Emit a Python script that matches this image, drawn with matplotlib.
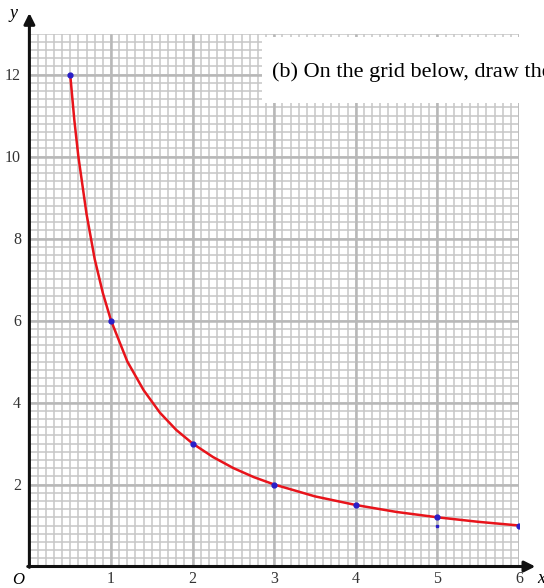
import numpy as np
import matplotlib
matplotlib.use("Agg")
import matplotlib.pyplot as plt
from matplotlib.patches import Rectangle

# points
curve_x = [0.5, 0.55, 0.6, 0.7, 0.8, 0.9, 1.0, 1.2, 1.4, 1.6, 1.8, 2.0,
           2.25, 2.5, 2.75, 3.0, 3.5, 4.0, 4.5, 5.0, 5.5, 6.0]
curve_y = [12.0, 10.9, 10.0, 8.6, 7.5, 6.67, 6.0, 5.0, 4.3, 3.75, 3.33, 3.0,
           2.67, 2.4, 2.18, 2.0, 1.71, 1.5, 1.33, 1.2, 1.09, 1.0]

# plotted (blue) points
pts_x = [0.5, 1, 2, 3, 4, 5, 6]
pts_y = [12, 6, 3, 2, 1.5, 1.2, 1.0]
small_x = [0.5, 5]
small_y = [0.0, 1.0]

x_ticks = [1, 2, 3, 4, 5, 6]
y_ticks = [2, 4, 6, 8, 10, 12]
question = "(b) On the grid below, draw the"

W, H = 544, 588
fig = plt.figure(figsize=(W / 100, H / 100), dpi=100)
ax = fig.add_axes([29.4 / W, 21.5 / H, 489.6 / W, 533 / H])
ax.set_xlim(0, 6)
ax.set_ylim(0, 13)
for s in ax.spines.values():
    s.set_visible(False)

serif = ["Liberation Serif", "DejaVu Serif"]

# graph paper
grid_c = "#c6c6c6"
ax.vlines(np.arange(0.1, 6.01, 0.1), 0, 13, color=grid_c, lw=1.1, zorder=1)
ax.hlines(np.arange(0.2, 13.01, 0.2), 0, 6, color=grid_c, lw=1.1, zorder=1)
ax.vlines(np.arange(1, 6.01, 1), 0, 13, color="#b8b8b8", lw=1.8, zorder=1)
ax.hlines(np.arange(2, 13, 2), 0, 6, color="#b8b8b8", lw=1.8, zorder=1)

# white box of the question text covering the grid
fig.patches.append(Rectangle((262 / W, (H - 103) / H), (W - 262) / W, 66 / H,
                             transform=fig.transFigure, facecolor="white",
                             edgecolor="none", zorder=5))
fig.text(272 / W, (H - 72) / H, question, family=serif, fontsize=16,
         va="center", ha="left", zorder=6)

# curve and points
ax.plot(curve_x, curve_y, color="#e8141b", lw=1.8, zorder=3)
ax.plot(pts_x, pts_y, "o", color="#2a1fc8", ms=3.5, zorder=4)
ax.plot(small_x, small_y, "s", color="#2a1fc8", ms=2, zorder=4)

# axes with arrows
arrow = dict(arrowstyle="-|>", lw=2.2, color="#111111", mutation_scale=16,
             shrinkA=0, shrinkB=0)
ax.annotate("", xy=(0, 13.5), xytext=(0, -0.02), arrowprops=arrow,
            annotation_clip=False, zorder=7)
ax.annotate("", xy=(6.2, 0), xytext=(-0.02, 0), arrowprops=arrow,
            annotation_clip=False, zorder=7)

ax.set_xticks(x_ticks)
ax.set_yticks(y_ticks)
ax.set_xticklabels([str(v) for v in x_ticks], family=serif, fontsize=11.5,
                   color="#333333")
ax.set_yticklabels([str(v) for v in y_ticks], family=serif, fontsize=11.5,
                   color="#333333")
ax.tick_params(axis="x", length=0, pad=3)
ax.tick_params(axis="y", length=0, pad=6)

ax.text(-0.14, -0.33, "O", family=serif, style="italic", fontsize=12,
        ha="center", va="center", clip_on=False)
ax.text(6.27, -0.3, "x", family=serif, style="italic", fontsize=13,
        ha="center", va="center", clip_on=False)
ax.text(-0.2, 13.5, "y", family=serif, style="italic", fontsize=13,
        ha="center", va="center", clip_on=False)

fig.savefig("out.png", dpi=100)
